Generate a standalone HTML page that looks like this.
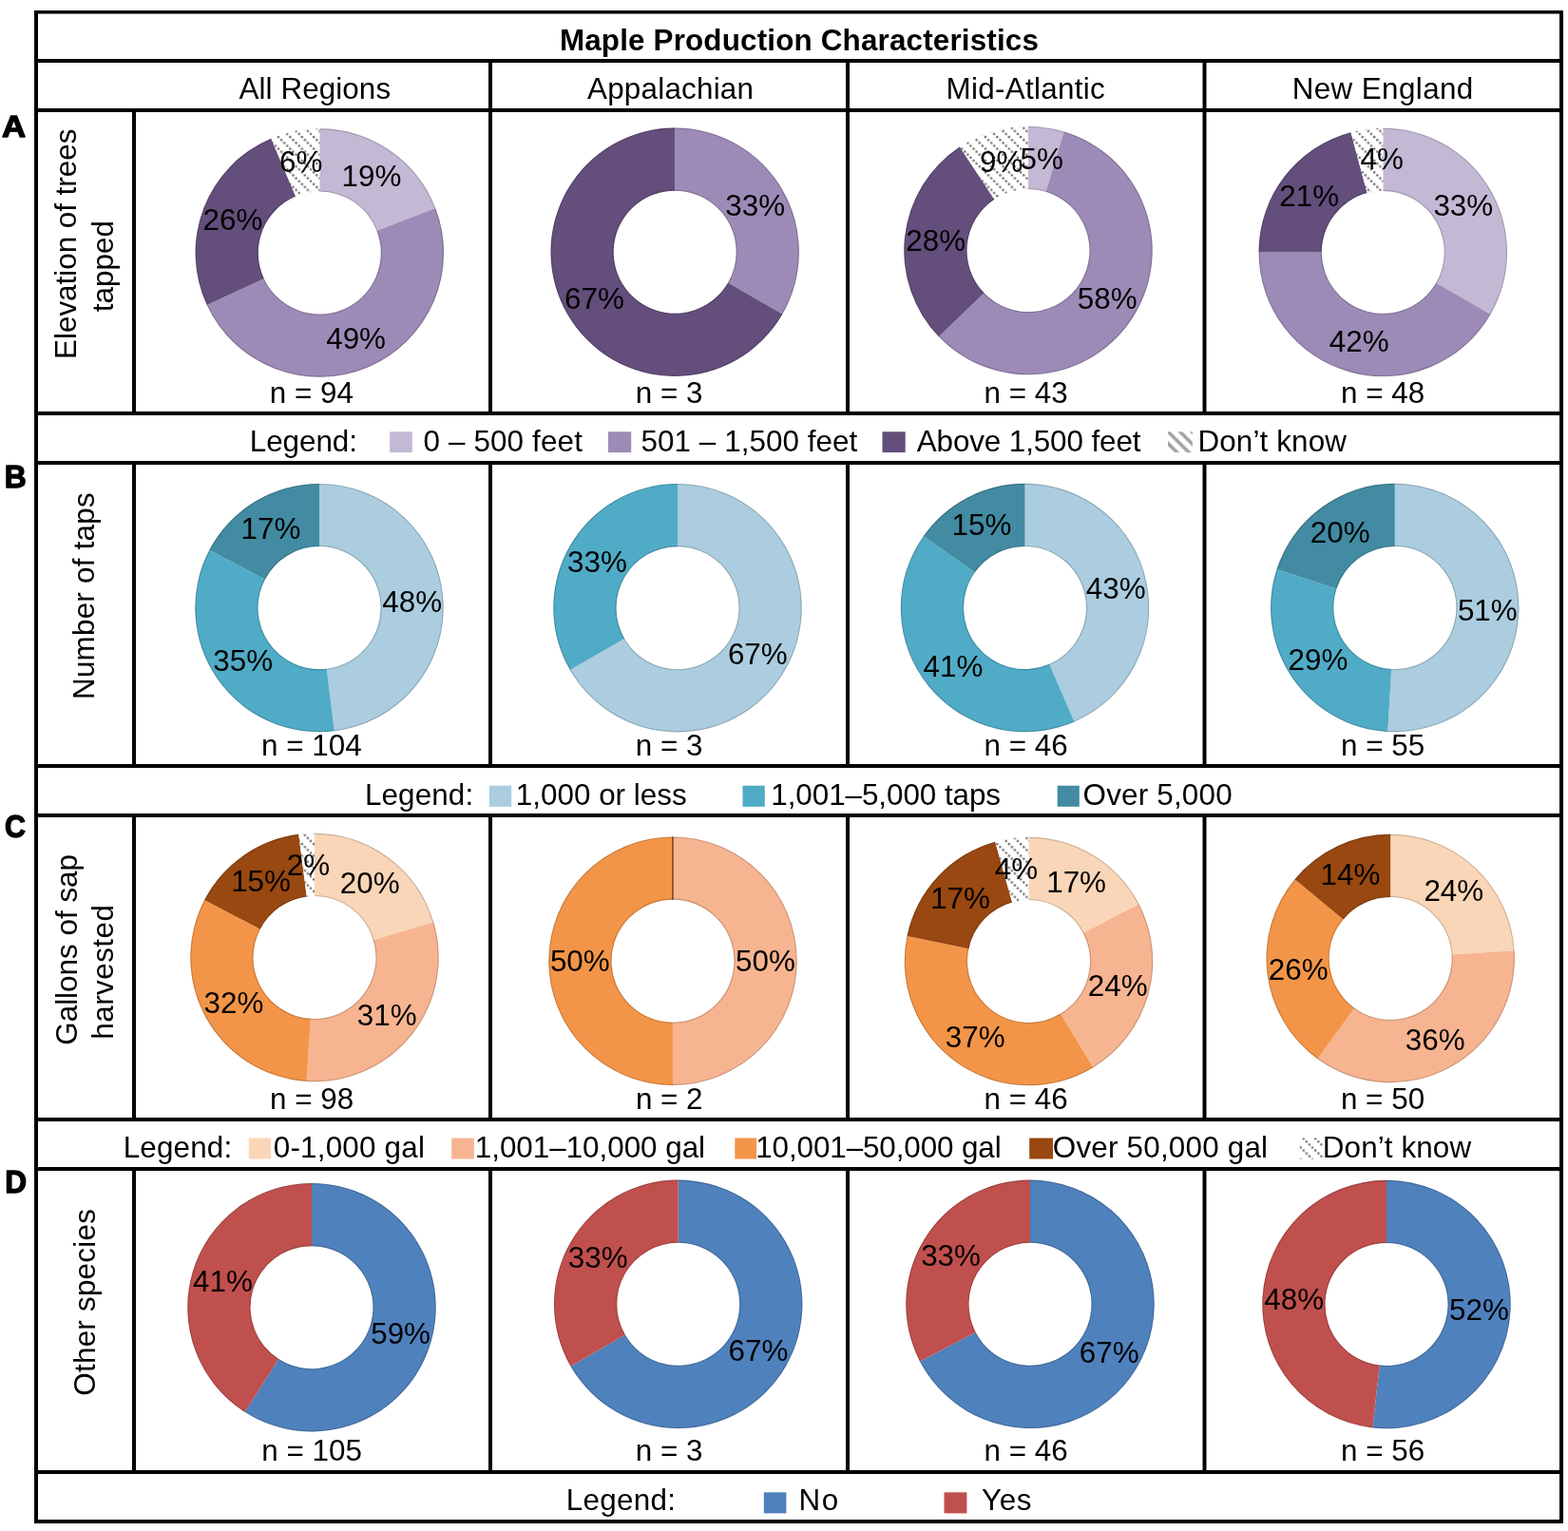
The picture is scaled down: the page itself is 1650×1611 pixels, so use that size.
<!DOCTYPE html>
<html><head><meta charset="utf-8"><title>Maple Production Characteristics</title>
<style>
html,body{margin:0;padding:0;background:#fff;overflow:hidden}
svg{display:block}
text{font-family:"Liberation Sans",Arial,Helvetica,sans-serif;font-size:31.4px;fill:#000}
</style></head><body>
<svg width="1650" height="1611" viewBox="0 0 1650 1611">
<defs><pattern id="hatch" patternUnits="userSpaceOnUse" width="12.4" height="12.4"><rect width="12.4" height="12.4" fill="#fff"/><circle cx="1.55" cy="1.55" r="1.25" fill="#747474"/><circle cx="4.65" cy="4.65" r="1.25" fill="#747474"/><circle cx="7.75" cy="7.75" r="1.25" fill="#747474"/><circle cx="10.85" cy="10.85" r="1.25" fill="#747474"/></pattern></defs>
<defs><pattern id="hatchL" patternUnits="userSpaceOnUse" x="1230" y="455" width="12.5" height="12.5"><rect width="12.5" height="12.5" fill="#fff"/><path d="M-2,-2L14.5,14.5M-2,10.5L2,14.5M10.5,-2L14.5,2" stroke="#a3a3a3" stroke-width="3.6"/></pattern></defs>
<rect x="0" y="0" width="1650" height="1611" fill="#fff"/>
<path d="M336.30,135.30A130.7,130.7 0 0 1 458.27,219.03L396.49,242.82A64.5,64.5 0 0 0 336.30,201.50Z" fill="#C3B9D4"/>
<path d="M458.27,219.03A130.7,130.7 0 0 1 217.74,321.02L277.79,293.15A64.5,64.5 0 0 0 396.49,242.82Z" fill="#9C8BB6"/>
<path d="M217.74,321.02A130.7,130.7 0 0 1 285.28,145.67L311.12,206.62A64.5,64.5 0 0 0 277.79,293.15Z" fill="#634E7C"/>
<path d="M285.28,145.67A130.7,130.7 0 0 1 336.30,135.30L336.30,201.50A64.5,64.5 0 0 0 311.12,206.62Z" fill="url(#hatch)"/>
<path d="M336.30,135.85A130.14999999999998,130.14999999999998 0 0 1 457.75,219.22" fill="none" stroke="rgba(0,0,0,0.18)" stroke-width="1.1"/>
<path d="M336.30,200.95A65.05,65.05 0 0 1 397.00,242.62" fill="none" stroke="rgba(0,0,0,0.18)" stroke-width="1.1"/>
<path d="M457.75,219.22A130.14999999999998,130.14999999999998 0 0 1 218.24,320.78" fill="none" stroke="rgba(0,0,0,0.18)" stroke-width="1.1"/>
<path d="M397.00,242.62A65.05,65.05 0 0 1 277.29,293.38" fill="none" stroke="rgba(0,0,0,0.18)" stroke-width="1.1"/>
<path d="M218.24,320.78A130.14999999999998,130.14999999999998 0 0 1 285.49,146.18" fill="none" stroke="rgba(0,0,0,0.18)" stroke-width="1.1"/>
<path d="M277.29,293.38A65.05,65.05 0 0 1 310.91,206.11" fill="none" stroke="rgba(0,0,0,0.18)" stroke-width="1.1"/>
<text x="359.51" y="196.18">19%</text>
<text x="343.20" y="366.51">49%</text>
<text x="213.59" y="241.57">26%</text>
<text x="293.98" y="181.01">6%</text>
<text x="283.79" y="424.20">n = 94</text>
<path d="M710.20,134.50A130.7,130.7 0 0 1 823.39,330.55L766.06,297.45A64.5,64.5 0 0 0 710.20,200.70Z" fill="#9C8BB6"/>
<path d="M823.39,330.55A130.7,130.7 0 1 1 710.20,134.50L710.20,200.70A64.5,64.5 0 1 0 766.06,297.45Z" fill="#634E7C"/>
<path d="M710.20,135.05A130.14999999999998,130.14999999999998 0 0 1 822.91,330.27" fill="none" stroke="rgba(0,0,0,0.18)" stroke-width="1.1"/>
<path d="M710.20,200.15A65.05,65.05 0 0 1 766.53,297.72" fill="none" stroke="rgba(0,0,0,0.18)" stroke-width="1.1"/>
<path d="M822.91,330.27A130.14999999999998,130.14999999999998 0 1 1 710.20,135.05" fill="none" stroke="rgba(0,0,0,0.18)" stroke-width="1.1"/>
<path d="M766.53,297.72A65.05,65.05 0 1 1 710.20,200.15" fill="none" stroke="rgba(0,0,0,0.18)" stroke-width="1.1"/>
<text x="763.28" y="227.05">33%</text>
<text x="594.04" y="324.65">67%</text>
<text x="668.78" y="424.20">n = 3</text>
<path d="M1082.00,132.90A130.7,130.7 0 0 1 1119.65,138.44L1100.58,201.83A64.5,64.5 0 0 0 1082.00,199.10Z" fill="#C3B9D4"/>
<path d="M1119.65,138.44A130.7,130.7 0 1 1 987.91,354.32L1035.57,308.37A64.5,64.5 0 1 0 1100.58,201.83Z" fill="#9C8BB6"/>
<path d="M987.91,354.32A130.7,130.7 0 0 1 1009.88,154.60L1046.41,209.81A64.5,64.5 0 0 0 1035.57,308.37Z" fill="#634E7C"/>
<path d="M1009.88,154.60A130.7,130.7 0 0 1 1082.00,132.90L1082.00,199.10A64.5,64.5 0 0 0 1046.41,209.81Z" fill="url(#hatch)"/>
<path d="M1082.00,133.45A130.14999999999998,130.14999999999998 0 0 1 1119.50,138.97" fill="none" stroke="rgba(0,0,0,0.18)" stroke-width="1.1"/>
<path d="M1082.00,198.55A65.05,65.05 0 0 1 1100.74,201.31" fill="none" stroke="rgba(0,0,0,0.18)" stroke-width="1.1"/>
<path d="M1119.50,138.97A130.14999999999998,130.14999999999998 0 1 1 988.30,353.93" fill="none" stroke="rgba(0,0,0,0.18)" stroke-width="1.1"/>
<path d="M1100.74,201.31A65.05,65.05 0 1 1 1035.17,308.75" fill="none" stroke="rgba(0,0,0,0.18)" stroke-width="1.1"/>
<path d="M988.30,353.93A130.14999999999998,130.14999999999998 0 0 1 1010.19,155.06" fill="none" stroke="rgba(0,0,0,0.18)" stroke-width="1.1"/>
<path d="M1035.17,308.75A65.05,65.05 0 0 1 1046.11,209.35" fill="none" stroke="rgba(0,0,0,0.18)" stroke-width="1.1"/>
<text x="1073.48" y="177.69">5%</text>
<text x="1133.83" y="325.09">58%</text>
<text x="953.35" y="263.58">28%</text>
<text x="1031.04" y="180.79">9%</text>
<text x="1035.53" y="424.20">n = 43</text>
<path d="M1455.30,134.70A130.7,130.7 0 0 1 1568.49,330.75L1511.16,297.65A64.5,64.5 0 0 0 1455.30,200.90Z" fill="#C3B9D4"/>
<path d="M1568.49,330.75A130.7,130.7 0 0 1 1324.60,265.40L1390.80,265.40A64.5,64.5 0 0 0 1511.16,297.65Z" fill="#9C8BB6"/>
<path d="M1324.60,265.40A130.7,130.7 0 0 1 1421.47,139.15L1438.61,203.10A64.5,64.5 0 0 0 1390.80,265.40Z" fill="#634E7C"/>
<path d="M1421.47,139.15A130.7,130.7 0 0 1 1455.30,134.70L1455.30,200.90A64.5,64.5 0 0 0 1438.61,203.10Z" fill="url(#hatch)"/>
<path d="M1455.30,135.25A130.14999999999998,130.14999999999998 0 0 1 1568.01,330.47" fill="none" stroke="rgba(0,0,0,0.18)" stroke-width="1.1"/>
<path d="M1455.30,200.35A65.05,65.05 0 0 1 1511.63,297.92" fill="none" stroke="rgba(0,0,0,0.18)" stroke-width="1.1"/>
<path d="M1568.01,330.47A130.14999999999998,130.14999999999998 0 0 1 1325.15,265.40" fill="none" stroke="rgba(0,0,0,0.18)" stroke-width="1.1"/>
<path d="M1511.63,297.92A65.05,65.05 0 0 1 1390.25,265.40" fill="none" stroke="rgba(0,0,0,0.18)" stroke-width="1.1"/>
<path d="M1325.15,265.40A130.14999999999998,130.14999999999998 0 0 1 1421.61,139.68" fill="none" stroke="rgba(0,0,0,0.18)" stroke-width="1.1"/>
<path d="M1390.25,265.40A65.05,65.05 0 0 1 1438.46,202.57" fill="none" stroke="rgba(0,0,0,0.18)" stroke-width="1.1"/>
<text x="1508.38" y="227.25">33%</text>
<text x="1398.84" y="370.32">42%</text>
<text x="1346.23" y="216.63">21%</text>
<text x="1431.51" y="177.88">4%</text>
<text x="1411.03" y="424.20">n = 48</text>
<path d="M336.00,508.90A130.7,130.7 0 0 1 351.75,769.35L343.77,703.63A64.5,64.5 0 0 0 336.00,575.10Z" fill="#ABCDDF"/>
<path d="M351.75,769.35A130.7,130.7 0 0 1 220.27,578.86L278.89,609.63A64.5,64.5 0 0 0 343.77,703.63Z" fill="#50ABC6"/>
<path d="M220.27,578.86A130.7,130.7 0 0 1 336.00,508.90L336.00,575.10A64.5,64.5 0 0 0 278.89,609.63Z" fill="#428BA2"/>
<path d="M336.00,509.45A130.14999999999998,130.14999999999998 0 0 1 351.69,768.80" fill="none" stroke="rgba(0,0,0,0.18)" stroke-width="1.1"/>
<path d="M336.00,574.55A65.05,65.05 0 0 1 343.84,704.18" fill="none" stroke="rgba(0,0,0,0.18)" stroke-width="1.1"/>
<path d="M351.69,768.80A130.14999999999998,130.14999999999998 0 0 1 220.76,579.12" fill="none" stroke="rgba(0,0,0,0.18)" stroke-width="1.1"/>
<path d="M343.84,704.18A65.05,65.05 0 0 1 278.40,609.37" fill="none" stroke="rgba(0,0,0,0.18)" stroke-width="1.1"/>
<path d="M220.76,579.12A130.14999999999998,130.14999999999998 0 0 1 336.00,509.45" fill="none" stroke="rgba(0,0,0,0.18)" stroke-width="1.1"/>
<path d="M278.40,609.37A65.05,65.05 0 0 1 336.00,574.55" fill="none" stroke="rgba(0,0,0,0.18)" stroke-width="1.1"/>
<text x="402.22" y="644.36">48%</text>
<text x="224.24" y="705.69">35%</text>
<text x="253.48" y="566.73">17%</text>
<text x="275.08" y="795.20">n = 104</text>
<path d="M713.00,509.00A130.7,130.7 0 1 1 599.81,705.05L657.14,671.95A64.5,64.5 0 1 0 713.00,575.20Z" fill="#ABCDDF"/>
<path d="M599.81,705.05A130.7,130.7 0 0 1 713.00,509.00L713.00,575.20A64.5,64.5 0 0 0 657.14,671.95Z" fill="#50ABC6"/>
<path d="M713.00,509.55A130.14999999999998,130.14999999999998 0 1 1 600.29,704.78" fill="none" stroke="rgba(0,0,0,0.18)" stroke-width="1.1"/>
<path d="M713.00,574.65A65.05,65.05 0 1 1 656.67,672.23" fill="none" stroke="rgba(0,0,0,0.18)" stroke-width="1.1"/>
<path d="M600.29,704.78A130.14999999999998,130.14999999999998 0 0 1 713.00,509.55" fill="none" stroke="rgba(0,0,0,0.18)" stroke-width="1.1"/>
<path d="M656.67,672.23A65.05,65.05 0 0 1 713.00,574.65" fill="none" stroke="rgba(0,0,0,0.18)" stroke-width="1.1"/>
<text x="765.89" y="699.15">67%</text>
<text x="597.04" y="601.55">33%</text>
<text x="668.78" y="795.20">n = 3</text>
<path d="M1078.50,508.80A130.7,130.7 0 0 1 1130.57,759.38L1104.20,698.66A64.5,64.5 0 0 0 1078.50,575.00Z" fill="#ABCDDF"/>
<path d="M1130.57,759.38A130.7,130.7 0 0 1 971.72,564.13L1025.81,602.30A64.5,64.5 0 0 0 1104.20,698.66Z" fill="#50ABC6"/>
<path d="M971.72,564.13A130.7,130.7 0 0 1 1078.50,508.80L1078.50,575.00A64.5,64.5 0 0 0 1025.81,602.30Z" fill="#428BA2"/>
<path d="M1078.50,509.35A130.14999999999998,130.14999999999998 0 0 1 1130.35,758.88" fill="none" stroke="rgba(0,0,0,0.18)" stroke-width="1.1"/>
<path d="M1078.50,574.45A65.05,65.05 0 0 1 1104.42,699.16" fill="none" stroke="rgba(0,0,0,0.18)" stroke-width="1.1"/>
<path d="M1130.35,758.88A130.14999999999998,130.14999999999998 0 0 1 972.17,564.45" fill="none" stroke="rgba(0,0,0,0.18)" stroke-width="1.1"/>
<path d="M1104.42,699.16A65.05,65.05 0 0 1 1025.36,601.99" fill="none" stroke="rgba(0,0,0,0.18)" stroke-width="1.1"/>
<path d="M972.17,564.45A130.14999999999998,130.14999999999998 0 0 1 1078.50,509.35" fill="none" stroke="rgba(0,0,0,0.18)" stroke-width="1.1"/>
<path d="M1025.36,601.99A65.05,65.05 0 0 1 1078.50,574.45" fill="none" stroke="rgba(0,0,0,0.18)" stroke-width="1.1"/>
<text x="1142.85" y="630.29">43%</text>
<text x="971.59" y="711.74">41%</text>
<text x="1001.57" y="563.49">15%</text>
<text x="1035.53" y="795.20">n = 46</text>
<path d="M1467.80,508.80A130.7,130.7 0 1 1 1460.34,769.99L1464.12,703.89A64.5,64.5 0 1 0 1467.80,575.00Z" fill="#ABCDDF"/>
<path d="M1460.34,769.99A130.7,130.7 0 0 1 1343.50,599.11L1406.46,619.57A64.5,64.5 0 0 0 1464.12,703.89Z" fill="#50ABC6"/>
<path d="M1343.50,599.11A130.7,130.7 0 0 1 1467.80,508.80L1467.80,575.00A64.5,64.5 0 0 0 1406.46,619.57Z" fill="#428BA2"/>
<path d="M1467.80,509.35A130.14999999999998,130.14999999999998 0 1 1 1460.37,769.44" fill="none" stroke="rgba(0,0,0,0.18)" stroke-width="1.1"/>
<path d="M1467.80,574.45A65.05,65.05 0 1 1 1464.09,704.44" fill="none" stroke="rgba(0,0,0,0.18)" stroke-width="1.1"/>
<path d="M1460.37,769.44A130.14999999999998,130.14999999999998 0 0 1 1344.02,599.28" fill="none" stroke="rgba(0,0,0,0.18)" stroke-width="1.1"/>
<path d="M1464.09,704.44A65.05,65.05 0 0 1 1405.93,619.40" fill="none" stroke="rgba(0,0,0,0.18)" stroke-width="1.1"/>
<path d="M1344.02,599.28A130.14999999999998,130.14999999999998 0 0 1 1467.80,509.35" fill="none" stroke="rgba(0,0,0,0.18)" stroke-width="1.1"/>
<path d="M1405.93,619.40A65.05,65.05 0 0 1 1467.80,574.45" fill="none" stroke="rgba(0,0,0,0.18)" stroke-width="1.1"/>
<text x="1533.88" y="652.94">51%</text>
<text x="1355.60" y="705.24">29%</text>
<text x="1378.80" y="571.19">20%</text>
<text x="1410.99" y="795.20">n = 55</text>
<path d="M331.00,876.80A130.7,130.7 0 0 1 456.30,970.31L392.83,989.15A64.5,64.5 0 0 0 331.00,943.00Z" fill="#F9D6B7"/>
<path d="M456.30,970.31A130.7,130.7 0 0 1 322.63,1137.93L326.87,1071.87A64.5,64.5 0 0 0 392.83,989.15Z" fill="#F7B491"/>
<path d="M322.63,1137.93A130.7,130.7 0 0 1 215.12,947.05L273.81,977.67A64.5,64.5 0 0 0 326.87,1071.87Z" fill="#F39548"/>
<path d="M215.12,947.05A130.7,130.7 0 0 1 314.29,877.87L322.75,943.53A64.5,64.5 0 0 0 273.81,977.67Z" fill="#984810"/>
<path d="M314.29,877.87A130.7,130.7 0 0 1 331.00,876.80L331.00,943.00A64.5,64.5 0 0 0 322.75,943.53Z" fill="url(#hatch)"/>
<path d="M331.00,877.35A130.14999999999998,130.14999999999998 0 0 1 455.77,970.47" fill="none" stroke="rgba(0,0,0,0.18)" stroke-width="1.1"/>
<path d="M331.00,942.45A65.05,65.05 0 0 1 393.36,988.99" fill="none" stroke="rgba(0,0,0,0.18)" stroke-width="1.1"/>
<path d="M455.77,970.47A130.14999999999998,130.14999999999998 0 0 1 322.66,1137.38" fill="none" stroke="rgba(0,0,0,0.18)" stroke-width="1.1"/>
<path d="M393.36,988.99A65.05,65.05 0 0 1 326.83,1072.42" fill="none" stroke="rgba(0,0,0,0.18)" stroke-width="1.1"/>
<path d="M322.66,1137.38A130.14999999999998,130.14999999999998 0 0 1 215.61,947.30" fill="none" stroke="rgba(0,0,0,0.18)" stroke-width="1.1"/>
<path d="M326.83,1072.42A65.05,65.05 0 0 1 273.33,977.41" fill="none" stroke="rgba(0,0,0,0.18)" stroke-width="1.1"/>
<path d="M215.61,947.30A130.14999999999998,130.14999999999998 0 0 1 314.36,878.42" fill="none" stroke="rgba(0,0,0,0.18)" stroke-width="1.1"/>
<path d="M273.33,977.41A65.05,65.05 0 0 1 322.68,942.98" fill="none" stroke="rgba(0,0,0,0.18)" stroke-width="1.1"/>
<text x="357.74" y="939.93">20%</text>
<text x="375.87" y="1079.00">31%</text>
<text x="214.52" y="1066.04">32%</text>
<text x="243.13" y="938.10">15%</text>
<text x="301.86" y="920.75">2%</text>
<text x="284.03" y="1167.00">n = 98</text>
<path d="M708.00,880.50A130.7,130.7 0 0 1 708.00,1141.90L708.00,1075.70A64.5,64.5 0 0 0 708.00,946.70Z" fill="#F7B491"/>
<path d="M708.00,1141.90A130.7,130.7 0 0 1 708.00,880.50L708.00,946.70A64.5,64.5 0 0 0 708.00,1075.70Z" fill="#F39548"/>
<path d="M708.00,881.05A130.14999999999998,130.14999999999998 0 0 1 708.00,1141.35" fill="none" stroke="rgba(0,0,0,0.18)" stroke-width="1.1"/>
<path d="M708.00,946.15A65.05,65.05 0 0 1 708.00,1076.25" fill="none" stroke="rgba(0,0,0,0.18)" stroke-width="1.1"/>
<path d="M708.00,1141.35A130.14999999999998,130.14999999999998 0 0 1 708.00,881.05" fill="none" stroke="rgba(0,0,0,0.18)" stroke-width="1.1"/>
<path d="M708.00,1076.25A65.05,65.05 0 0 1 708.00,946.15" fill="none" stroke="rgba(0,0,0,0.18)" stroke-width="1.1"/>
<text x="774.12" y="1021.85">50%</text>
<text x="578.92" y="1021.85">50%</text>
<text x="668.90" y="1167.00">n = 2</text>
<path d="M1082.50,880.80A130.7,130.7 0 0 1 1198.55,951.37L1139.77,981.83A64.5,64.5 0 0 0 1082.50,947.00Z" fill="#F9D6B7"/>
<path d="M1198.55,951.37A130.7,130.7 0 0 1 1150.41,1123.17L1116.01,1066.61A64.5,64.5 0 0 0 1139.77,981.83Z" fill="#F7B491"/>
<path d="M1150.41,1123.17A130.7,130.7 0 0 1 954.53,984.91L1019.35,998.38A64.5,64.5 0 0 0 1116.01,1066.61Z" fill="#F39548"/>
<path d="M954.53,984.91A130.7,130.7 0 0 1 1047.24,885.65L1065.10,949.39A64.5,64.5 0 0 0 1019.35,998.38Z" fill="#984810"/>
<path d="M1047.24,885.65A130.7,130.7 0 0 1 1082.50,880.80L1082.50,947.00A64.5,64.5 0 0 0 1065.10,949.39Z" fill="url(#hatch)"/>
<path d="M1082.50,881.35A130.14999999999998,130.14999999999998 0 0 1 1198.06,951.62" fill="none" stroke="rgba(0,0,0,0.18)" stroke-width="1.1"/>
<path d="M1082.50,946.45A65.05,65.05 0 0 1 1140.26,981.57" fill="none" stroke="rgba(0,0,0,0.18)" stroke-width="1.1"/>
<path d="M1198.06,951.62A130.14999999999998,130.14999999999998 0 0 1 1150.12,1122.70" fill="none" stroke="rgba(0,0,0,0.18)" stroke-width="1.1"/>
<path d="M1140.26,981.57A65.05,65.05 0 0 1 1116.30,1067.08" fill="none" stroke="rgba(0,0,0,0.18)" stroke-width="1.1"/>
<path d="M1150.12,1122.70A130.14999999999998,130.14999999999998 0 0 1 955.07,985.02" fill="none" stroke="rgba(0,0,0,0.18)" stroke-width="1.1"/>
<path d="M1116.30,1067.08A65.05,65.05 0 0 1 1018.81,998.27" fill="none" stroke="rgba(0,0,0,0.18)" stroke-width="1.1"/>
<path d="M955.07,985.02A130.14999999999998,130.14999999999998 0 0 1 1047.39,886.18" fill="none" stroke="rgba(0,0,0,0.18)" stroke-width="1.1"/>
<path d="M1018.81,998.27A65.05,65.05 0 0 1 1064.95,948.86" fill="none" stroke="rgba(0,0,0,0.18)" stroke-width="1.1"/>
<text x="1101.18" y="938.76">17%</text>
<text x="1144.85" y="1048.48">24%</text>
<text x="994.78" y="1101.89">37%</text>
<text x="979.14" y="955.53">17%</text>
<text x="1046.76" y="925.46">4%</text>
<text x="1035.53" y="1167.00">n = 46</text>
<path d="M1463.20,877.80A130.7,130.7 0 0 1 1593.64,1000.29L1527.57,1004.45A64.5,64.5 0 0 0 1463.20,944.00Z" fill="#F9D6B7"/>
<path d="M1593.64,1000.29A130.7,130.7 0 0 1 1386.38,1114.24L1425.29,1060.68A64.5,64.5 0 0 0 1527.57,1004.45Z" fill="#F7B491"/>
<path d="M1386.38,1114.24A130.7,130.7 0 0 1 1362.49,925.19L1413.50,967.39A64.5,64.5 0 0 0 1425.29,1060.68Z" fill="#F39548"/>
<path d="M1362.49,925.19A130.7,130.7 0 0 1 1463.20,877.80L1463.20,944.00A64.5,64.5 0 0 0 1413.50,967.39Z" fill="#984810"/>
<path d="M1463.20,878.35A130.14999999999998,130.14999999999998 0 0 1 1593.09,1000.33" fill="none" stroke="rgba(0,0,0,0.18)" stroke-width="1.1"/>
<path d="M1463.20,943.45A65.05,65.05 0 0 1 1528.12,1004.42" fill="none" stroke="rgba(0,0,0,0.18)" stroke-width="1.1"/>
<path d="M1593.09,1000.33A130.14999999999998,130.14999999999998 0 0 1 1386.70,1113.79" fill="none" stroke="rgba(0,0,0,0.18)" stroke-width="1.1"/>
<path d="M1528.12,1004.42A65.05,65.05 0 0 1 1424.96,1061.13" fill="none" stroke="rgba(0,0,0,0.18)" stroke-width="1.1"/>
<path d="M1386.70,1113.79A130.14999999999998,130.14999999999998 0 0 1 1362.92,925.54" fill="none" stroke="rgba(0,0,0,0.18)" stroke-width="1.1"/>
<path d="M1424.96,1061.13A65.05,65.05 0 0 1 1413.08,967.04" fill="none" stroke="rgba(0,0,0,0.18)" stroke-width="1.1"/>
<path d="M1362.92,925.54A130.14999999999998,130.14999999999998 0 0 1 1463.20,878.35" fill="none" stroke="rgba(0,0,0,0.18)" stroke-width="1.1"/>
<path d="M1413.08,967.04A65.05,65.05 0 0 1 1463.20,943.45" fill="none" stroke="rgba(0,0,0,0.18)" stroke-width="1.1"/>
<text x="1498.38" y="948.00">24%</text>
<text x="1478.78" y="1104.68">36%</text>
<text x="1334.73" y="1031.38">26%</text>
<text x="1389.62" y="930.84">14%</text>
<text x="1410.95" y="1167.00">n = 50</text>
<path d="M328.00,1245.00A130.7,130.7 0 1 1 257.64,1485.84L293.28,1430.06A64.5,64.5 0 1 0 328.00,1311.20Z" fill="#4F81BD"/>
<path d="M257.64,1485.84A130.7,130.7 0 0 1 328.00,1245.00L328.00,1311.20A64.5,64.5 0 0 0 293.28,1430.06Z" fill="#C0504D"/>
<path d="M328.00,1245.55A130.14999999999998,130.14999999999998 0 1 1 257.93,1485.38" fill="none" stroke="rgba(0,0,0,0.18)" stroke-width="1.1"/>
<path d="M328.00,1310.65A65.05,65.05 0 1 1 292.98,1430.52" fill="none" stroke="rgba(0,0,0,0.18)" stroke-width="1.1"/>
<path d="M257.93,1485.38A130.14999999999998,130.14999999999998 0 0 1 328.00,1245.55" fill="none" stroke="rgba(0,0,0,0.18)" stroke-width="1.1"/>
<path d="M292.98,1430.52A65.05,65.05 0 0 1 328.00,1310.65" fill="none" stroke="rgba(0,0,0,0.18)" stroke-width="1.1"/>
<text x="390.21" y="1413.72">59%</text>
<text x="203.11" y="1358.98">41%</text>
<text x="275.28" y="1537.30">n = 105</text>
<path d="M713.70,1241.60A130.7,130.7 0 1 1 600.51,1437.65L657.84,1404.55A64.5,64.5 0 1 0 713.70,1307.80Z" fill="#4F81BD"/>
<path d="M600.51,1437.65A130.7,130.7 0 0 1 713.70,1241.60L713.70,1307.80A64.5,64.5 0 0 0 657.84,1404.55Z" fill="#C0504D"/>
<path d="M713.70,1242.15A130.14999999999998,130.14999999999998 0 1 1 600.99,1437.38" fill="none" stroke="rgba(0,0,0,0.18)" stroke-width="1.1"/>
<path d="M713.70,1307.25A65.05,65.05 0 1 1 657.37,1404.83" fill="none" stroke="rgba(0,0,0,0.18)" stroke-width="1.1"/>
<path d="M600.99,1437.38A130.14999999999998,130.14999999999998 0 0 1 713.70,1242.15" fill="none" stroke="rgba(0,0,0,0.18)" stroke-width="1.1"/>
<path d="M657.37,1404.83A65.05,65.05 0 0 1 713.70,1307.25" fill="none" stroke="rgba(0,0,0,0.18)" stroke-width="1.1"/>
<text x="766.59" y="1431.75">67%</text>
<text x="597.74" y="1334.15">33%</text>
<text x="668.78" y="1537.30">n = 3</text>
<path d="M1084.00,1241.60A130.7,130.7 0 1 1 967.95,1432.43L1026.73,1401.97A64.5,64.5 0 1 0 1084.00,1307.80Z" fill="#4F81BD"/>
<path d="M967.95,1432.43A130.7,130.7 0 0 1 1084.00,1241.60L1084.00,1307.80A64.5,64.5 0 0 0 1026.73,1401.97Z" fill="#C0504D"/>
<path d="M1084.00,1242.15A130.14999999999998,130.14999999999998 0 1 1 968.44,1432.18" fill="none" stroke="rgba(0,0,0,0.18)" stroke-width="1.1"/>
<path d="M1084.00,1307.25A65.05,65.05 0 1 1 1026.24,1402.23" fill="none" stroke="rgba(0,0,0,0.18)" stroke-width="1.1"/>
<path d="M968.44,1432.18A130.14999999999998,130.14999999999998 0 0 1 1084.00,1242.15" fill="none" stroke="rgba(0,0,0,0.18)" stroke-width="1.1"/>
<path d="M1026.24,1402.23A65.05,65.05 0 0 1 1084.00,1307.25" fill="none" stroke="rgba(0,0,0,0.18)" stroke-width="1.1"/>
<text x="1135.76" y="1433.66">67%</text>
<text x="969.17" y="1332.24">33%</text>
<text x="1035.53" y="1537.30">n = 46</text>
<path d="M1459.00,1241.80A130.7,130.7 0 1 1 1444.37,1502.38L1451.78,1436.59A64.5,64.5 0 1 0 1459.00,1308.00Z" fill="#4F81BD"/>
<path d="M1444.37,1502.38A130.7,130.7 0 0 1 1459.00,1241.80L1459.00,1308.00A64.5,64.5 0 0 0 1451.78,1436.59Z" fill="#C0504D"/>
<path d="M1459.00,1242.35A130.14999999999998,130.14999999999998 0 1 1 1444.43,1501.83" fill="none" stroke="rgba(0,0,0,0.18)" stroke-width="1.1"/>
<path d="M1459.00,1307.45A65.05,65.05 0 1 1 1451.72,1437.14" fill="none" stroke="rgba(0,0,0,0.18)" stroke-width="1.1"/>
<path d="M1444.43,1501.83A130.14999999999998,130.14999999999998 0 0 1 1459.00,1242.35" fill="none" stroke="rgba(0,0,0,0.18)" stroke-width="1.1"/>
<path d="M1451.72,1437.14A65.05,65.05 0 0 1 1459.00,1307.45" fill="none" stroke="rgba(0,0,0,0.18)" stroke-width="1.1"/>
<text x="1524.97" y="1388.62">52%</text>
<text x="1330.35" y="1377.68">48%</text>
<text x="1411.03" y="1537.30">n = 56</text>
<line x1="708" y1="880.5" x2="708" y2="946.7" stroke="#3f1c02" stroke-width="1.1"/>
<text x="588.88" y="52.50" font-weight="bold" textLength="503.98" lengthAdjust="spacing">Maple Production Characteristics</text>
<text x="251.42" y="104.20" textLength="159.70" lengthAdjust="spacing">All Regions</text>
<text x="618.07" y="104.20" textLength="174.88" lengthAdjust="spacing">Appalachian</text>
<text x="995.61" y="104.20" textLength="167.01" lengthAdjust="spacing">Mid-Atlantic</text>
<text x="1359.66" y="104.20" textLength="190.67" lengthAdjust="spacing">New England</text>
<text transform="translate(1.88,144.25) scale(1.097,1)" style="font-size:31.71px" font-weight="bold" stroke="#000" stroke-width="1.3" stroke-linejoin="round">A</text>
<text transform="translate(4.70,512.55) scale(0.980,1)" style="font-size:32.44px" font-weight="bold" stroke="#000" stroke-width="1.3" stroke-linejoin="round">B</text>
<text transform="translate(5.03,880.92) scale(0.935,1)" style="font-size:32.51px" font-weight="bold" stroke="#000" stroke-width="1.3" stroke-linejoin="round">C</text>
<text transform="translate(5.21,1254.55) scale(0.976,1)" style="font-size:32.44px" font-weight="bold" stroke="#000" stroke-width="1.3" stroke-linejoin="round">D</text>
<text transform="translate(79.80,256.00) rotate(-90)" x="-121.89" y="0" textLength="242.25" lengthAdjust="spacing">Elevation of trees</text>
<text transform="translate(118.50,280.90) rotate(-90)" x="-47.47" y="0" textLength="96.46" lengthAdjust="spacing">tapped</text>
<text transform="translate(98.70,626.40) rotate(-90)" x="-109.59" y="0" textLength="217.65" lengthAdjust="spacing">Number of taps</text>
<text transform="translate(81.20,999.20) rotate(-90)" x="-100.57" y="0" textLength="200.82" lengthAdjust="spacing">Gallons of sap</text>
<text transform="translate(119.40,1022.80) rotate(-90)" x="-70.85" y="0" textLength="141.51" lengthAdjust="spacing">harvested</text>
<text transform="translate(99.50,1370.20) rotate(-90)" x="-98.49" y="0" textLength="196.57" lengthAdjust="spacing">Other species</text>
<text x="262.71" y="475.40" textLength="113.30" lengthAdjust="spacing">Legend:</text>
<rect x="410.2" y="454.3" width="23.60" height="21.80" fill="#C3B9D4"/>
<text x="445.44" y="475.40" textLength="167.48" lengthAdjust="spacing">0 – 500 feet</text>
<rect x="640" y="454.3" width="24.20" height="21.80" fill="#9C8BB6"/>
<text x="674.54" y="475.40" textLength="227.71" lengthAdjust="spacing">501 – 1,500 feet</text>
<rect x="928.5" y="454.3" width="24.20" height="21.80" fill="#634E7C"/>
<text x="964.72" y="475.40" textLength="235.77" lengthAdjust="spacing">Above 1,500 feet</text>
<rect x="1229" y="454.3" width="25.80" height="21.80" fill="url(#hatchL)"/>
<text x="1260.41" y="475.40" textLength="156.49" lengthAdjust="spacing">Don’t know</text>
<text x="383.91" y="846.80" textLength="114.20" lengthAdjust="spacing">Legend:</text>
<rect x="514.8" y="826.7" width="23.40" height="22.10" fill="#ABCDDF"/>
<text x="542.85" y="846.80" textLength="179.77" lengthAdjust="spacing">1,000 or less</text>
<rect x="781.5" y="826.7" width="23.30" height="22.10" fill="#50ABC6"/>
<text x="811.25" y="846.80" textLength="241.81" lengthAdjust="spacing">1,001–5,000 taps</text>
<rect x="1112.7" y="826.7" width="23.10" height="22.10" fill="#428BA2"/>
<text x="1139.51" y="846.80" textLength="157.16" lengthAdjust="spacing">Over 5,000</text>
<text x="129.71" y="1217.60" textLength="114.50" lengthAdjust="spacing">Legend:</text>
<rect x="261.8" y="1197.5" width="23.40" height="22.00" fill="#F9D6B7"/>
<text x="287.74" y="1217.60" textLength="159.14" lengthAdjust="spacing">0-1,000 gal</text>
<rect x="475.2" y="1197.5" width="23.60" height="22.00" fill="#F7B491"/>
<text x="499.75" y="1217.60" textLength="242.35" lengthAdjust="spacing">1,001–10,000 gal</text>
<rect x="773.3" y="1197.5" width="22.70" height="22.00" fill="#F39548"/>
<text x="795.25" y="1217.60" textLength="258.41" lengthAdjust="spacing">10,001–50,000 gal</text>
<rect x="1083.2" y="1197.5" width="24.80" height="22.00" fill="#984810"/>
<text x="1107.81" y="1217.60" textLength="226.25" lengthAdjust="spacing">Over 50,000 gal</text>
<rect x="1367.3" y="1197.5" width="24.70" height="22.00" fill="url(#hatch)"/>
<text x="1391.81" y="1217.60" textLength="156.29" lengthAdjust="spacing">Don’t know</text>
<text x="595.71" y="1589.00" textLength="115.20" lengthAdjust="spacing">Legend:</text>
<rect x="803.8" y="1570.3" width="23.60" height="22.10" fill="#4F81BD"/>
<text x="840.61" y="1589.00" textLength="41.67" lengthAdjust="spacing">No</text>
<rect x="993.5" y="1570.3" width="23.90" height="22.10" fill="#C0504D"/>
<text x="1033.09" y="1589.00" textLength="52.27" lengthAdjust="spacing">Yes</text>
<rect x="36" y="11" width="1609" height="3.5" fill="#000"/>
<rect x="36" y="62" width="1609" height="4" fill="#000"/>
<rect x="36" y="114" width="1609" height="4" fill="#000"/>
<rect x="36" y="433" width="1609" height="4" fill="#000"/>
<rect x="36" y="485" width="1609" height="4" fill="#000"/>
<rect x="36" y="804" width="1609" height="4" fill="#000"/>
<rect x="36" y="856" width="1609" height="4" fill="#000"/>
<rect x="36" y="1176" width="1609" height="4" fill="#000"/>
<rect x="36" y="1228" width="1609" height="4" fill="#000"/>
<rect x="36" y="1547" width="1609" height="4" fill="#000"/>
<rect x="36" y="1599" width="1609" height="4" fill="#000"/>
<rect x="36" y="11" width="4" height="1592" fill="#000"/>
<rect x="1641" y="11" width="4" height="1592" fill="#000"/>
<rect x="514" y="62" width="4" height="56" fill="#000"/>
<rect x="514" y="114" width="4" height="323" fill="#000"/>
<rect x="514" y="485" width="4" height="323" fill="#000"/>
<rect x="514" y="856" width="4" height="324" fill="#000"/>
<rect x="514" y="1228" width="4" height="323" fill="#000"/>
<rect x="890" y="62" width="4" height="56" fill="#000"/>
<rect x="890" y="114" width="4" height="323" fill="#000"/>
<rect x="890" y="485" width="4" height="323" fill="#000"/>
<rect x="890" y="856" width="4" height="324" fill="#000"/>
<rect x="890" y="1228" width="4" height="323" fill="#000"/>
<rect x="1265.5" y="62" width="4" height="56" fill="#000"/>
<rect x="1265.5" y="114" width="4" height="323" fill="#000"/>
<rect x="1265.5" y="485" width="4" height="323" fill="#000"/>
<rect x="1265.5" y="856" width="4" height="324" fill="#000"/>
<rect x="1265.5" y="1228" width="4" height="323" fill="#000"/>
<rect x="139" y="114" width="4" height="323" fill="#000"/>
<rect x="139" y="485" width="4" height="323" fill="#000"/>
<rect x="139" y="856" width="4" height="324" fill="#000"/>
<rect x="139" y="1228" width="4" height="323" fill="#000"/>
</svg>
</body></html>
